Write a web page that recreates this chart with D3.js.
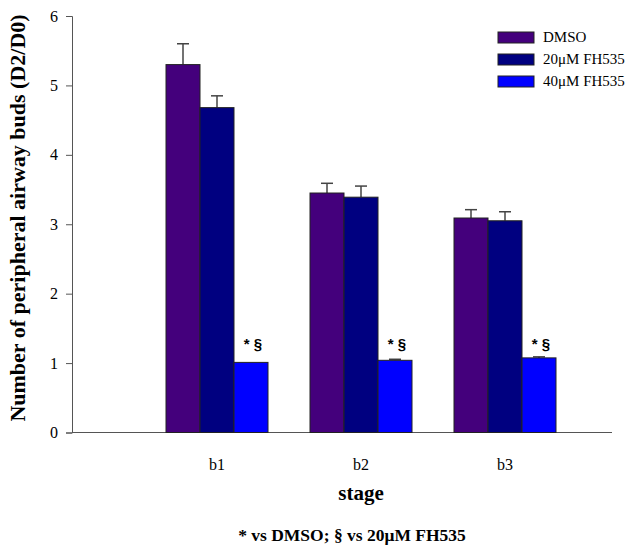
<!DOCTYPE html>
<html><head><meta charset="utf-8">
<script src="https://cdn.jsdelivr.net/npm/d3@7"></script>
<style>body{margin:0;background:#fff}</style>
</head><body>
<svg id="c" width="642" height="547"></svg>
<script>
const categories = ["b1", "b2", "b3"];
const seriesNames = ["DMSO", "20\u03bcM FH535", "40\u03bcM FH535"];
const dmso = [5.30, 3.45, 3.09];
const fh20 = [4.68, 3.39, 3.05];
const fh40 = [1.01, 1.04, 1.075];
const dmsoErr = [0.30, 0.14, 0.12];
const fh20Err = [0.17, 0.16, 0.13];
const fh40Err = [0.0, 0.015, 0.015];
const yTicks = [0, 1, 2, 3, 4, 5, 6];
const sigLabels = ["* \u00a7", "* \u00a7", "* \u00a7"];
const colors = ["#44007c", "#000080", "#0000ff"];

const SERIF = "'Liberation Serif', 'Times New Roman', 'DejaVu Serif', serif";
const series = [dmso, fh20, fh40];
const errs = [dmsoErr, fh20Err, fh40Err];
const svg = d3.select("#c");
const y = d3.scaleLinear().domain([0, 6]).range([432.5, 16]);
const x0 = d3.scaleBand().domain(categories).range([145, 577]).paddingInner(42/144).paddingOuter(21/144);
const x1 = d3.scaleBand().domain(d3.range(3)).range([0, x0.bandwidth()]);

// axes
const yAxis = d3.axisLeft(y).tickValues(yTicks).tickSize(6).tickPadding(8).tickFormat(d3.format("d"));
const gy = svg.append("g").attr("transform", "translate(72,0)").call(yAxis);
gy.attr("font-family", null);
gy.select(".domain").attr("stroke", "#555");
gy.selectAll(".tick line").attr("stroke", "#555");
gy.selectAll(".tick text").attr("font-size", 16).attr("fill", "#000");

svg.append("line").attr("x1", 72).attr("x2", 612).attr("y1", y(0)).attr("y2", y(0)).attr("stroke", "#555").attr("stroke-width", 1.2);

// bars
const groups = svg.append("g").selectAll("g").data(categories).join("g")
  .attr("transform", d => `translate(${x0(d)},0)`);
groups.each(function(cat, ci) {
  const g = d3.select(this);
  series.forEach((s, si) => {
    const bx = x1(si), bw = x1.bandwidth();
    const v = s[ci], e = errs[si][ci];
    if (e > 0) {
      g.append("line").attr("x1", bx + bw/2).attr("x2", bx + bw/2)
        .attr("y1", y(v)).attr("y2", y(v + e)).attr("stroke", "#444").attr("stroke-width", 1.5);
      g.append("line").attr("x1", bx + bw/2 - 6).attr("x2", bx + bw/2 + 6)
        .attr("y1", y(v + e)).attr("y2", y(v + e)).attr("stroke", "#444").attr("stroke-width", 1.5);
    }
    g.append("rect").attr("x", bx).attr("y", y(v)).attr("width", bw).attr("height", y(0) - y(v))
      .attr("fill", colors[si]).attr("stroke", "#222").attr("stroke-width", 1);
  });
  g.append("text").attr("class", "sig").attr("x", x1(2) + x1.bandwidth()/2 + 2).attr("y", 349)
    .attr("text-anchor", "middle").attr("font-size", 15).attr("font-weight", "bold")
    .text(sigLabels[ci]);
});

// x labels
svg.append("g").selectAll("text").data(categories).join("text")
  .attr("x", d => x0(d) + x0.bandwidth()/2).attr("y", 470)
  .attr("text-anchor", "middle").attr("font-size", 16).text(d => d);

// titles
svg.append("text").attr("transform", "translate(25,218) rotate(-90)").attr("text-anchor", "middle")
  .attr("font-size", 22).attr("font-weight", "bold").text("Number of peripheral airway buds (D2/D0)");
svg.append("text").attr("x", 361).attr("y", 500).attr("text-anchor", "middle")
  .attr("font-size", 21).attr("font-weight", "bold").text("stage");
svg.append("text").attr("x", 352).attr("y", 541).attr("text-anchor", "middle")
  .attr("font-size", 17.5).attr("font-weight", "bold").text("* vs DMSO; \u00a7 vs 20\u03bcM FH535");

// legend
const lg = svg.append("g").selectAll("g").data(seriesNames).join("g")
  .attr("transform", (d, i) => `translate(498,${32 + i * 22})`);
lg.append("rect").attr("width", 36).attr("height", 11).attr("fill", (d, i) => colors[i]).attr("stroke", "#222");
lg.append("text").attr("x", 45).attr("y", 10).attr("font-size", 15).text(d => d);

svg.selectAll("text").style("font-family", SERIF);
svg.selectAll("text.sig").style("font-family", "'Liberation Sans', Arial, sans-serif");
</script>
</body></html>
